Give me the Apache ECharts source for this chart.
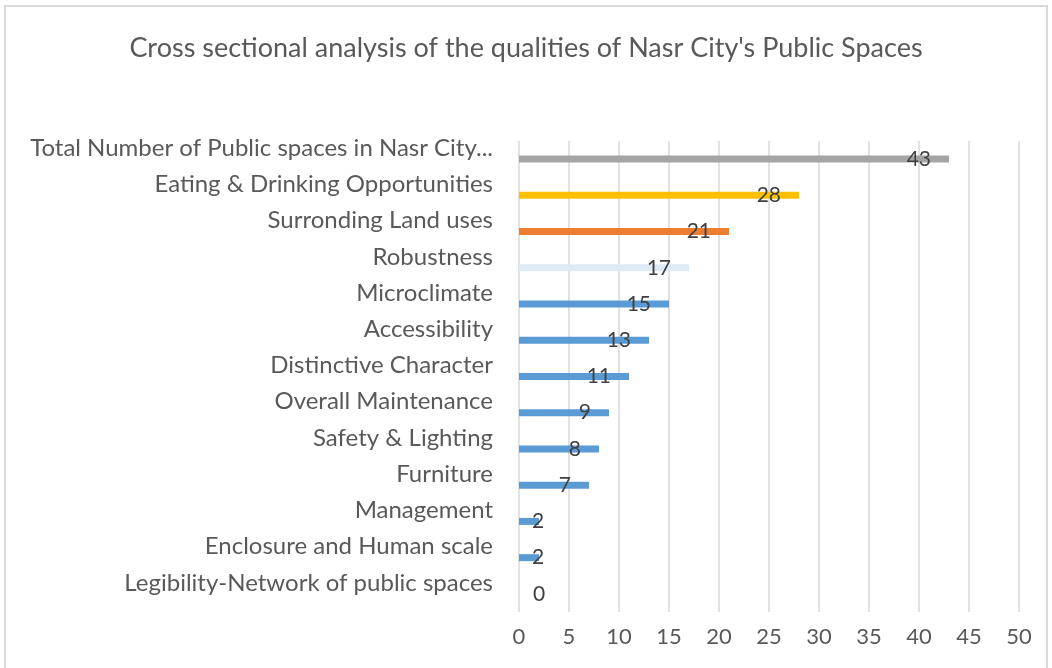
<!DOCTYPE html>
<html>
<head>
<meta charset="utf-8">
<script src="https://cdn.jsdelivr.net/npm/echarts@6/dist/echarts.min.js"></script>
<style>
  html, body { margin: 0; padding: 0; background: #fff; }
  #chart { width: 1052px; height: 668px; }
</style>
</head>
<body>
<div id="chart"></div>
<script>
  // categories from bottom to top (category axis draws the first one at the bottom)
  var categories = [
    'Legibility-Network of public spaces',
    'Enclosure and Human scale',
    'Management',
    'Furniture',
    'Safety & Lighting',
    'Overall Maintenance',
    'Distinctive Character',
    'Accessibility',
    'Microclimate',
    'Robustness',
    'Surronding Land uses',
    'Eating & Drinking Opportunities',
    'Total Number of Public spaces in Nasr City...'
  ];
  var values = [0, 2, 2, 7, 8, 9, 11, 13, 15, 17, 21, 28, 43];
  var barColors = ['#5b9bd5', '#5b9bd5', '#5b9bd5', '#5b9bd5', '#5b9bd5', '#5b9bd5', '#5b9bd5',
                   '#5b9bd5', '#5b9bd5', '#deebf7', '#ed7d31', '#ffc000', '#a5a5a5'];
  var xTicks = [0, 5, 10, 15, 20, 25, 30, 35, 40, 45, 50];

  var font = 'Lato, "Open Sans", sans-serif';

  var chart = echarts.init(document.getElementById('chart'));

  var seriesData = values.map(function (v, i) {
    var label;
    if (v < 5) {
      // short bars: label sits just past the end
      label = { position: 'right', distance: v === 0 ? 14 : -7 };
    } else {
      label = { position: 'insideRight', distance: 18 };
    }
    return { value: v, itemStyle: { color: barColors[i] }, label: label };
  });

  chart.setOption({
    animation: false,
    title: {
      text: "Cross sectional analysis of the qualities of Nasr City's Public Spaces",
      left: 'center',
      top: 30,
      textStyle: { fontFamily: font, fontSize: 27, fontWeight: 'normal', color: '#595959' }
    },
    graphic: [{
      type: 'rect',
      shape: { x: 5, y: 6, width: 1042, height: 700 },
      style: { fill: 'none', stroke: '#d9d9d9', lineWidth: 2 },
      silent: true
    }],
    grid: { left: 519, right: 33, top: 141, bottom: 56, containLabel: false },
    xAxis: {
      type: 'value',
      min: 0,
      max: 50,
      interval: 5,
      axisLine: { show: false },
      axisTick: { show: false },
      axisLabel: {
        margin: 14,
        fontFamily: font, fontSize: 22, color: '#595959',
        formatter: function (v) { return xTicks.indexOf(v) >= 0 ? String(v) : ''; }
      },
      splitLine: { show: true, lineStyle: { color: '#d9d9d9', width: 1.5 } }
    },
    yAxis: {
      type: 'category',
      data: categories,
      axisLine: { show: false },
      axisTick: { show: false },
      axisLabel: {
        margin: 26,
        fontFamily: font, fontSize: 24, color: '#595959',
        verticalAlign: 'bottom',
        lineHeight: 22
      }
    },
    series: [{
      type: 'bar',
      data: seriesData,
      barWidth: 7,
      label: {
        show: true,
        fontFamily: font, fontSize: 21, color: '#404040'
      }
    }]
  });
</script>
</body>
</html>
